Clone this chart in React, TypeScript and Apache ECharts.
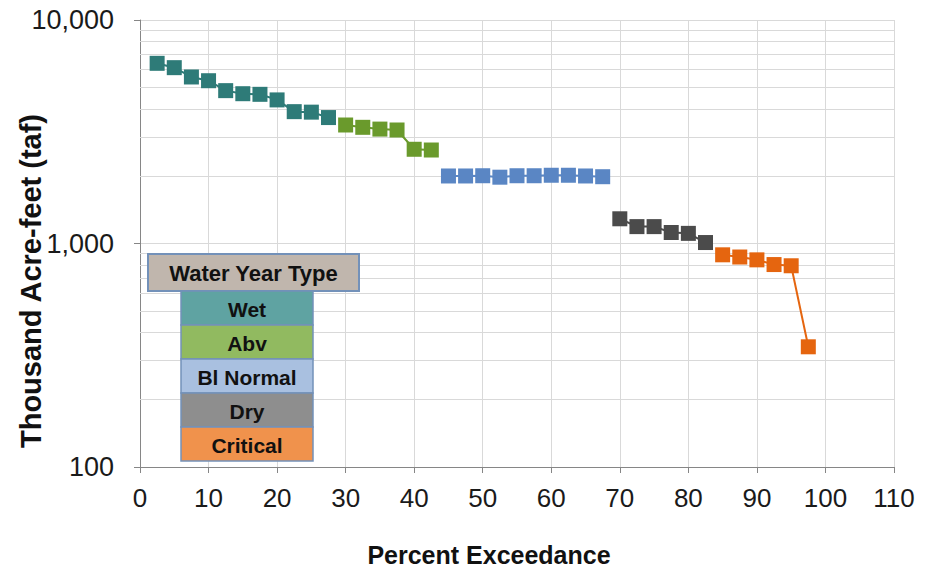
import React, { useEffect, useRef } from "react";
import * as echarts from "echarts";

// Percent exceedance (plotting positions) for the 39 ranked years
const exceedance: number[] = [
  2.5, 5, 7.5, 10, 12.5, 15, 17.5, 20, 22.5, 25, 27.5,
  30, 32.5, 35, 37.5, 40, 42.5,
  45, 47.5, 50, 52.5, 55, 57.5, 60, 62.5, 65, 67.5,
  70, 72.5, 75, 77.5, 80, 82.5,
  85, 87.5, 90, 92.5, 95, 97.5,
];

// Values (thousand acre-feet) by water year type
const wetValues: number[] = [6400, 6120, 5560, 5350, 4830, 4680, 4650, 4390, 3890, 3870, 3660];
const abvValues: number[] = [3390, 3310, 3250, 3220, 2640, 2620];
const blNormalValues: number[] = [2005, 2005, 2010, 1980, 2010, 2010, 2020, 2020, 2005, 1990];
const dryValues: number[] = [1290, 1190, 1190, 1120, 1110, 1010];
const criticalValues: number[] = [890, 870, 845, 805, 795, 345];

const typeNames: string[] = ["Wet", "Abv", "Bl Normal", "Dry", "Critical"];
const markerColors: string[] = ["#2e7b78", "#6a9a2c", "#5a86c4", "#4b4b4b", "#e5650f"];
const legendColors: string[] = ["#5fa3a2", "#91ba60", "#a9c0e0", "#8e8e8e", "#f0924c"];

const xTicks = { min: 0, max: 110, interval: 10 };
const yTicks = { min: 100, max: 10000 };
const minorGridValues: number[] = [200, 300, 400, 500, 600, 700, 800, 900, 2000, 3000, 4000, 5000, 6000, 7000, 8000, 9000];

const FONT = "'Liberation Sans', Arial, sans-serif";

export default function App() {
  const ref = useRef<HTMLDivElement>(null);
  useEffect(() => {
    if (!ref.current) return;
    const chart = echarts.init(ref.current, null, { renderer: "svg" });

    const groups = [wetValues, abvValues, blNormalValues, dryValues, criticalValues];
    let offset = 0;
    const series: any[] = [];
    groups.forEach((vals, gi) => {
      const data = vals.map((v, i) => [exceedance[offset + i], v]);
      offset += vals.length;
      series.push({
        name: typeNames[gi],
        type: "line",
        data,
        symbol: "rect",
        symbolSize: 15,
        showAllSymbol: true,
        z: 3,
        lineStyle: { color: markerColors[gi], width: 2 },
        itemStyle: { color: markerColors[gi] },
      });
    });

    series.push({
      name: "minor",
      type: "line",
      data: [],
      z: 1,
      silent: true,
      markLine: {
        z: 1,
        silent: true,
        symbol: ["none", "none"],
        label: { show: false },
        lineStyle: { color: "#d9d9d9", width: 1, type: "solid" },
        data: minorGridValues.map((v) => ({ yAxis: v })),
      },
    });

    const legendX = 148;
    const headerY = 254;
    const subX = 181;
    const subW = 132;
    const subH = 34;
    const graphic: any[] = [
      {
        type: "rect",
        shape: { x: legendX, y: headerY, width: 211, height: 37 },
        style: { fill: "#c0b6ad", stroke: "#7391b9", lineWidth: 2 },
        z: 10,
      },
      {
        type: "text",
        x: legendX + 105.5,
        y: headerY + 19,
        style: { text: "Water Year Type", font: `bold 22px ${FONT}`, fill: "#111", align: "center", verticalAlign: "middle" },
        z: 11,
      },
    ];
    typeNames.forEach((name, i) => {
      const y = headerY + 37 + i * subH;
      graphic.push({
        type: "rect",
        shape: { x: subX, y, width: subW, height: subH },
        style: { fill: legendColors[i], stroke: "#7391b9", lineWidth: 1.5 },
        z: 10,
      });
      graphic.push({
        type: "text",
        x: subX + subW / 2,
        y: y + subH / 2 + 1,
        style: { text: name, font: `bold 21px ${FONT}`, fill: "#111", align: "center", verticalAlign: "middle" },
        z: 11,
      });
    });
    graphic.push({
      type: "text",
      x: 31,
      y: 281,
      rotation: Math.PI / 2,
      style: { text: "Thousand Acre-feet (taf)", font: `bold 29px ${FONT}`, fill: "#111", align: "center", verticalAlign: "middle" },
    });
    graphic.push({
      type: "text",
      x: 489,
      y: 555,
      style: { text: "Percent Exceedance", font: `bold 25px ${FONT}`, fill: "#111", align: "center", verticalAlign: "middle" },
    });

    chart.setOption({
      animation: false,
      backgroundColor: "#ffffff",
      grid: { left: 140, right: 40, top: 20, bottom: 102, containLabel: false },
      xAxis: {
        type: "value",
        min: xTicks.min,
        max: xTicks.max,
        interval: xTicks.interval,
        axisLine: { show: true, onZero: false, lineStyle: { color: "#868686", width: 1 } },
        axisTick: { show: true, length: 6, inside: false, lineStyle: { color: "#868686" } },
        axisLabel: { fontFamily: FONT, fontSize: 26, color: "#1a1a1a", margin: 18 },
        splitLine: { show: true, lineStyle: { color: "#d9d9d9", width: 1 } },
      },
      yAxis: {
        type: "log",
        logBase: 10,
        min: yTicks.min,
        max: yTicks.max,
        axisLine: { show: true, lineStyle: { color: "#868686", width: 1 } },
        axisTick: { show: true, length: 6, lineStyle: { color: "#868686" } },
        axisLabel: {
          fontFamily: FONT,
          fontSize: 27,
          color: "#1a1a1a",
          margin: 26,
          formatter: (v: number) => Math.round(v).toLocaleString("en-US"),
        },
        splitLine: { show: true, lineStyle: { color: "#d9d9d9", width: 1 } },
      },
      series,
      graphic,
    });
    return () => chart.dispose();
  }, []);
  return <div ref={ref} style={{ position: "fixed", left: 0, top: 0, width: 934, height: 569 }} />;
}
